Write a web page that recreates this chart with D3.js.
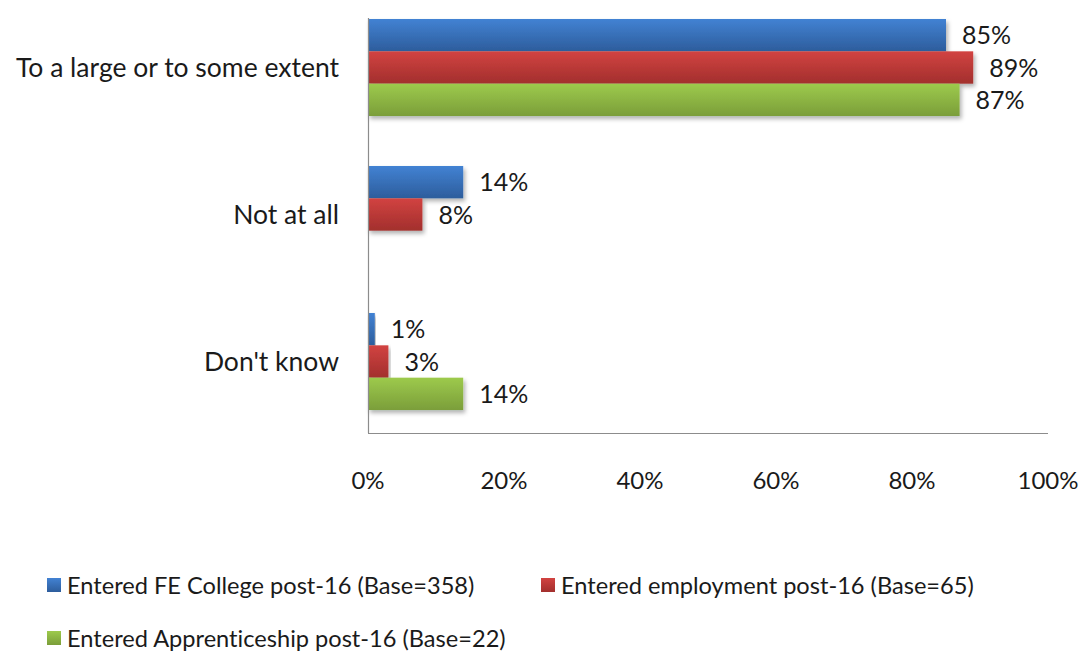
<!DOCTYPE html>
<html>
<head>
<meta charset="utf-8">
<script src="https://cdn.jsdelivr.net/npm/d3@7"></script>
<style>
  html, body { margin: 0; padding: 0; background: #fff; }
  svg { display: block; }
  text { font-family: Lato, "Open Sans", sans-serif; fill: #1a1a1a; font-variant-ligatures: none; }
</style>
</head>
<body>
<svg id="chart" width="1083" height="653"></svg>
<script>
// Categories (top to bottom) and series values in percent
const categories = ["To a large or to some extent", "Not at all", "Don't know"];
const seriesNames = [
  "Entered FE College post-16 (Base=358)",
  "Entered employment post-16 (Base=65)",
  "Entered Apprenticeship post-16 (Base=22)"
];
const feCollege = [85, 14, 1];
const employment = [89, 8, 3];
const apprenticeship = [87, null, 14];
const xTicks = [0, 20, 40, 60, 80, 100];

const seriesValues = [feCollege, employment, apprenticeship];
const seriesColors = [
  { top: "#4282d3", bottom: "#2d5d9c" },
  { top: "#d24341", bottom: "#a22f2d" },
  { top: "#9dca4c", bottom: "#7b9e3a" }
];

const svg = d3.select("#chart");
const left = 368, right = 1048, axisTop = 18, axisBottom = 433;

const x = d3.scaleLinear().domain([0, 100]).range([left, right]);
const y = d3.scaleBand().domain(categories)
  .range([-6, 435]).paddingInner(0.34).paddingOuter(0.17);
const ySub = d3.scaleBand().domain(d3.range(seriesNames.length))
  .range([0, y.bandwidth()]);

// gradients and bar shadow
const defs = svg.append("defs");
seriesColors.forEach((c, i) => {
  const g = defs.append("linearGradient").attr("id", "grad" + i)
    .attr("x1", 0).attr("y1", 0).attr("x2", 0).attr("y2", 1);
  g.append("stop").attr("offset", "0%").attr("stop-color", c.top);
  g.append("stop").attr("offset", "100%").attr("stop-color", c.bottom);
});
const f = defs.append("filter").attr("id", "shadow")
  .attr("x", "-5%").attr("y", "-20%").attr("width", "115%").attr("height", "160%");
f.append("feDropShadow").attr("dx", 2).attr("dy", 3).attr("stdDeviation", 2)
  .attr("flood-color", "#000").attr("flood-opacity", 0.3);

// bars
const rows = [];
categories.forEach((cat, ci) => {
  seriesValues.forEach((vals, si) => {
    if (vals[ci] != null) rows.push({ cat, si, v: vals[ci] });
  });
});

svg.append("g").selectAll("rect").data(rows).join("rect")
  .attr("x", x(0))
  .attr("y", d => y(d.cat) + ySub(d.si))
  .attr("width", d => x(d.v) - x(0))
  .attr("height", ySub.bandwidth())
  .attr("fill", d => `url(#grad${d.si})`)
  .attr("filter", "url(#shadow)");

// value labels
svg.append("g").selectAll("text").data(rows).join("text")
  .attr("x", d => x(d.v) + 16)
  .attr("y", d => y(d.cat) + ySub(d.si) + ySub.bandwidth() / 2)
  .attr("dy", "0.36em")
  .attr("font-size", 25)
  .text(d => d.v + "%");

// axes lines
svg.append("line").attr("x1", left + 0.5).attr("x2", left + 0.5)
  .attr("y1", axisTop).attr("y2", axisBottom)
  .attr("stroke", "#8c8c8c").attr("stroke-width", 1.2);
svg.append("line").attr("x1", left).attr("x2", right)
  .attr("y1", axisBottom + 0.5).attr("y2", axisBottom + 0.5)
  .attr("stroke", "#8c8c8c").attr("stroke-width", 1.2);

// x tick labels
svg.append("g").selectAll("text").data(xTicks).join("text")
  .attr("x", d => x(d))
  .attr("y", 489)
  .attr("text-anchor", "middle")
  .attr("font-size", 24)
  .text(d => d + "%");

// category labels
svg.append("g").selectAll("text").data(categories).join("text")
  .attr("x", 339)
  .attr("y", d => y(d) + y.bandwidth() / 2)
  .attr("dy", "0.36em")
  .attr("text-anchor", "end")
  .attr("font-size", 26.5)
  .text(d => d);

// legend
const legendPos = [
  { x: 47, y: 594 },
  { x: 541, y: 594 },
  { x: 47, y: 647 }
];
const lg = svg.append("g").selectAll("g").data(seriesNames).join("g")
  .attr("transform", (d, i) => `translate(${legendPos[i].x},${legendPos[i].y})`);
lg.append("rect").attr("x", 0).attr("y", -16).attr("width", 14).attr("height", 14)
  .attr("fill", (d, i) => `url(#grad${i})`);
lg.append("text").attr("x", 20).attr("y", 0)
  .attr("font-size", 23.6)
  .text(d => d);
</script>
</body>
</html>
